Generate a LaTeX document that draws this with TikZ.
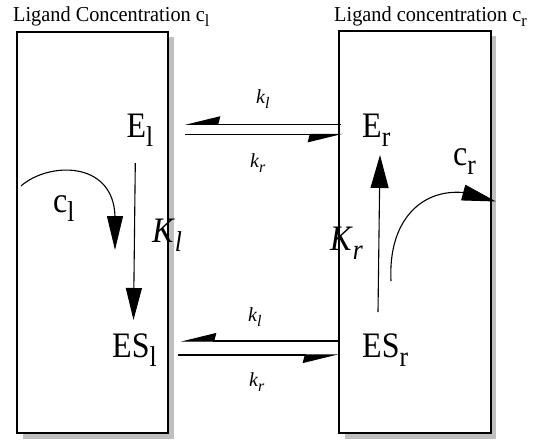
\documentclass[tikz,border=0pt]{standalone}
\usepackage{fontspec}
\usepackage{graphicx}
\setmainfont{Liberation Serif}
\usetikzlibrary{arrows.meta}
\newcommand\subsc[1]{\raisebox{-0.27em}{\scalebox{0.8}{#1}}}
\newcommand\tallbig[1]{\scalebox{1}[1.12]{#1}}
\newcommand\talltitle[1]{\scalebox{1}[1.05]{#1}}
\begin{document}
\begin{tikzpicture}[x=1pt,y=-1pt,
  boxline/.style={draw=black,line width=1.3pt,fill=white},
  shadowfill/.style={fill=black!25},
  title/.style={font=\fontsize{20.3}{21}\selectfont,inner sep=0pt,anchor=base west},
  big/.style={font=\fontsize{32}{32}\selectfont,inner sep=0pt,anchor=base west},
  rate/.style={font=\fontsize{20}{20}\selectfont\itshape,inner sep=0pt,anchor=base west},
  conn/.style={line width=1.1pt},
  vhead/.style={-{Triangle[length=32pt,width=16pt]}},
  hhead/.style={-{Stealth[harpoon,swap,length=33pt,width=16pt,inset=2pt]}},
  chead/.style={-{Triangle[length=34pt,width=16pt]}}]
\useasboundingbox (0,0) rectangle (535,440);
% boxes with shadows
\fill[shadowfill] (23,37) rectangle (174,439);
\draw[boxline] (17,32) rectangle (168,433);
\fill[shadowfill] (345,36) rectangle (496,439);
\draw[boxline] (339,31) rectangle (491,433);
% titles
\node[title] (tl) at (13,21) {\talltitle{Ligand Concentration c\subsc{l}}};
\node[title] (tr) at (334,21) {\talltitle{Ligand concentration c\subsc{r}}};
% species
\node[big] (El) at (126.5,137) {\tallbig{E\subsc{l}}};
\node[big] (Er) at (362,137) {\tallbig{E\subsc{r}}};
\node[big] (ESl) at (112,357) {\tallbig{ES\subsc{l}}};
\node[big] (ESr) at (362,357) {\tallbig{ES\subsc{r}}};
\node[big] (cl) at (53,212) {\tallbig{c\subsc{l}}};
\node[big] (cr) at (453,165) {\tallbig{c\subsc{r}}};
\node[big] (Kl) at (152,242) {\tallbig{\textit{K}\subsc{\textit{l}}}};
\node[big] (Kr) at (330,250) {\tallbig{\textit{K}\subsc{\textit{r}}}};
% rate labels
\node[rate] (kl1) at (256,103.5) {k\subsc{l}};
\node[rate] (kr1) at (250,167) {k\subsc{r}};
\node[rate] (kl2) at (248,321.5) {k\subsc{l}};
\node[rate] (kr2) at (249,386) {k\subsc{r}};
% connector end points
\coordinate (a1) at (341,124.3); \coordinate (a2) at (185,124.3);
\coordinate (b1) at (185,134.3); \coordinate (b2) at (343,134.3);
\coordinate (c1) at (340,341);   \coordinate (c2) at (181,341);
\coordinate (d1) at (178,355);   \coordinate (d2) at (338,355);
\coordinate (v1) at (135.3,163); \coordinate (v2) at (133.5,320);
\coordinate (w1) at (378,312);   \coordinate (w2) at (380,155);
\coordinate (p1) at (21,186);    \coordinate (p2) at (115,216); \coordinate (p3) at (115,250);
\coordinate (q1) at (391,281);   \coordinate (q2) at (463,192.5); \coordinate (q3) at (496,201.5);
% connectors
\draw[conn,hhead] (a1) -- (a2);
\draw[conn,hhead] (b1) -- (b2);
\draw[conn,hhead] (c1) -- (c2);
\draw[conn,hhead] (d1) -- (d2);
\draw[conn,vhead] (v1) -- (v2);
\draw[conn,-{Triangle[length=33pt,width=18pt]}] (w1) -- (w2);
\draw[conn,chead] (p1) .. controls (48,162) and (113,160) .. (p2) -- (p3);
\draw[conn,chead] (q1) .. controls (388,222) and (420,189) .. (q2) -- (q3);
\end{tikzpicture}
\end{document}
